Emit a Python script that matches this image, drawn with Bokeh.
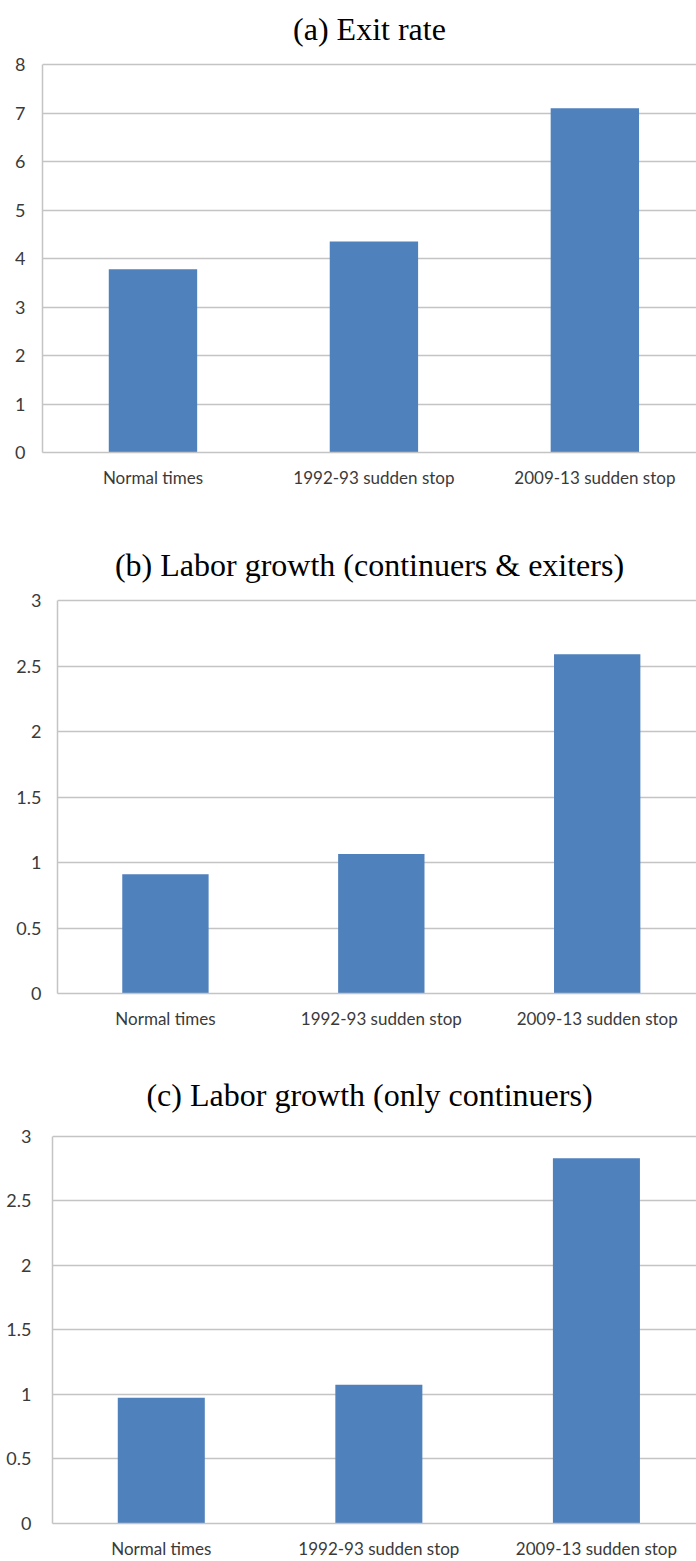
from bokeh.plotting import figure
from bokeh.layouts import column
from bokeh.models import Range1d, FixedTicker, NumeralTickFormatter, Label
from bokeh.embed import file_html
from bokeh.resources import INLINE

categories = ["Normal times", "1992-93 sudden stop", "2009-13 sudden stop"]

titles = ["(a) Exit rate",
          "(b) Labor growth (continuers & exiters)",
          "(c) Labor growth (only continuers)"]

exit_rate = [3.78, 4.35, 7.10]
labor_growth_all = [0.91, 1.065, 2.59]
labor_growth_cont = [0.975, 1.075, 2.83]

yticks_a = [0, 1, 2, 3, 4, 5, 6, 7, 8]
yticks_bc = [0, 0.5, 1, 1.5, 2, 2.5, 3]

BAR = "#4f81bd"
GRID = "#c4c4c4"
TXT = "#3a3a3a"
SANS = "Lato"
SERIF = "Liberation Serif"
PAGE_W = 696
TITLE_CX = 369


def make_panel(title, values, yticks, fmt, height, top_px, border_bottom,
               border_left, xend, label_standoff, title_top):
    xs = list(range(len(categories)))
    ymax = yticks[-1]
    frame_bottom = height - border_bottom          # frame spans canvas top .. frame_bottom
    y_end = ymax * frame_bottom / (frame_bottom - top_px)   # so that ymax sits at top_px
    p = figure(width=PAGE_W, height=height, output_backend="svg", toolbar_location=None,
               x_range=Range1d(-0.5, xend), y_range=Range1d(0, y_end),
               min_border_top=0, min_border_bottom=border_bottom,
               min_border_left=border_left, min_border_right=0)
    p.vbar(x=xs, top=values, width=0.4, fill_color=BAR, line_color=None)
    p.outline_line_color = None
    p.background_fill_color = "white"
    p.border_fill_color = "white"
    p.xgrid.grid_line_color = None
    p.ygrid.grid_line_color = GRID
    p.ygrid.grid_line_width = 1.5
    p.yaxis.ticker = FixedTicker(ticks=yticks)
    p.yaxis.formatter = NumeralTickFormatter(format=fmt)
    p.yaxis.bounds = (0, ymax)
    p.xaxis.ticker = FixedTicker(ticks=xs)
    p.xaxis.major_label_overrides = {i: c for i, c in zip(xs, categories)}
    for ax in (p.xaxis[0], p.yaxis[0]):
        ax.axis_line_color = GRID
        ax.axis_line_width = 1.5
        ax.major_tick_line_color = None
        ax.minor_tick_line_color = None
        ax.major_label_text_font = SANS
        ax.major_label_text_font_size = "17px"
        ax.major_label_text_color = TXT
    p.yaxis.major_label_text_font_size = "18px"
    p.xaxis.major_label_standoff = 8
    p.yaxis.major_label_standoff = label_standoff
    # screen units are relative to the frame (x from its left, y up from its bottom)
    lab = Label(x=TITLE_CX - border_left, y=frame_bottom - title_top,
                x_units="screen", y_units="screen", text=title,
                text_font=SERIF, text_font_size="32px", text_color="black",
                text_align="center", text_baseline="middle")
    p.add_layout(lab)
    return p


pa = make_panel(titles[0], exit_rate, yticks_a, "0", 530, 64, 78, 42, 2.46, 11, 28)
pb = make_panel(titles[1], labor_growth_all, yticks_bc, "0.[0]", 530, 70, 67, 57, 2.46, 10, 34)
pc = make_panel(titles[2], labor_growth_cont, yticks_bc, "0.[0]", 501, 76, 37, 52, 2.46, 15, 35)

layout = column(column(pa), column(pb), column(pc), spacing=0)

with open("out.html", "w") as f:
    f.write(file_html(layout, INLINE))
